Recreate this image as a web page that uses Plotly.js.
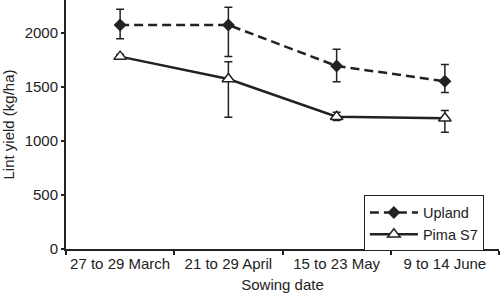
<!DOCTYPE html>
<html><head><meta charset="utf-8">
<script src="https://cdn.plot.ly/plotly-3.0.1.min.js"></script>
<style>html,body{margin:0;padding:0;background:#fff}</style>
</head><body><div id="chart" style="width:500px;height:297px"></div>
<script>
const categories = ["27 to 29 March", "21 to 29 April", "15 to 23 May", "9 to 14 June"];
const uplandMean = [2074, 2074, 1694, 1553];
const uplandErrPlus = [145, 164, 155, 154];
const uplandErrMinus = [127, 293, 145, 104];
const pimaMean = [1781, 1574, 1225, 1210];
const pimaErrPlus = [20, 160, 41, 71];
const pimaErrMinus = [20, 355, 35, 130];
const yTicks = [0, 500, 1000, 1500, 2000];

const fam = "Liberation Sans, Arial, sans-serif";
const font = {family: fam, size: 15, color: "#222"};
const traces = [
  {x: categories, y: uplandMean, name: "Upland", type: "scatter", mode: "lines+markers",
   line: {color: "#222", width: 2.5, dash: "9px,5px"},
   marker: {symbol: "diamond", size: 10, color: "#222"},
   error_y: {type: "data", symmetric: false, array: uplandErrPlus, arrayminus: uplandErrMinus,
             color: "#222", thickness: 1.5, width: 4}},
  {x: categories, y: pimaMean, name: "Pima S7", type: "scatter", mode: "lines+markers",
   line: {color: "#222", width: 2.5},
   marker: {symbol: "triangle-up", size: 11, color: "#fff", line: {color: "#222", width: 1.5}},
   error_y: {type: "data", symmetric: false, array: pimaErrPlus, arrayminus: pimaErrMinus,
             color: "#222", thickness: 1.5, width: 4}}
];
const layout = {
  width: 500, height: 297,
  margin: {l: 66, r: 1, t: 0, b: 48},
  paper_bgcolor: "#fff", plot_bgcolor: "#fff",
  font: font,
  showlegend: true,
  legend: {x: 0.688, y: 0.215, xanchor: "left", yanchor: "top", bordercolor: "#222", borderwidth: 1,
           bgcolor: "#fff", font: {family: fam, size: 14.5, color: "#222"}, tracegroupgap: 0,
           itemwidth: 48, tracegroupgap: 0},
  xaxis: {type: "category", range: [-0.5, 3.5], showline: true, linecolor: "#222", linewidth: 2,
          ticks: "outside", ticklen: 4, tickcolor: "#222", tickwidth: 2, tickson: "boundaries",
          tickangle: 0, automargin: false,
          showgrid: false, zeroline: false,
          title: {text: "Sowing date", font: {family: fam, size: 15, color: "#222"}, standoff: 8}},
  yaxis: {range: [0, 2305], tickvals: yTicks, showline: true, linecolor: "#222", linewidth: 2,
          ticks: "outside", ticklen: 3, tickcolor: "#222", tickwidth: 1.5,
          showgrid: false, zeroline: false,
          title: {text: "Lint yield (kg/ha)", font: {family: fam, size: 15, color: "#222"}, standoff: 6}}
};
Plotly.newPlot("chart", traces, layout, {displayModeBar: false, staticPlot: true});
</script></body></html>
